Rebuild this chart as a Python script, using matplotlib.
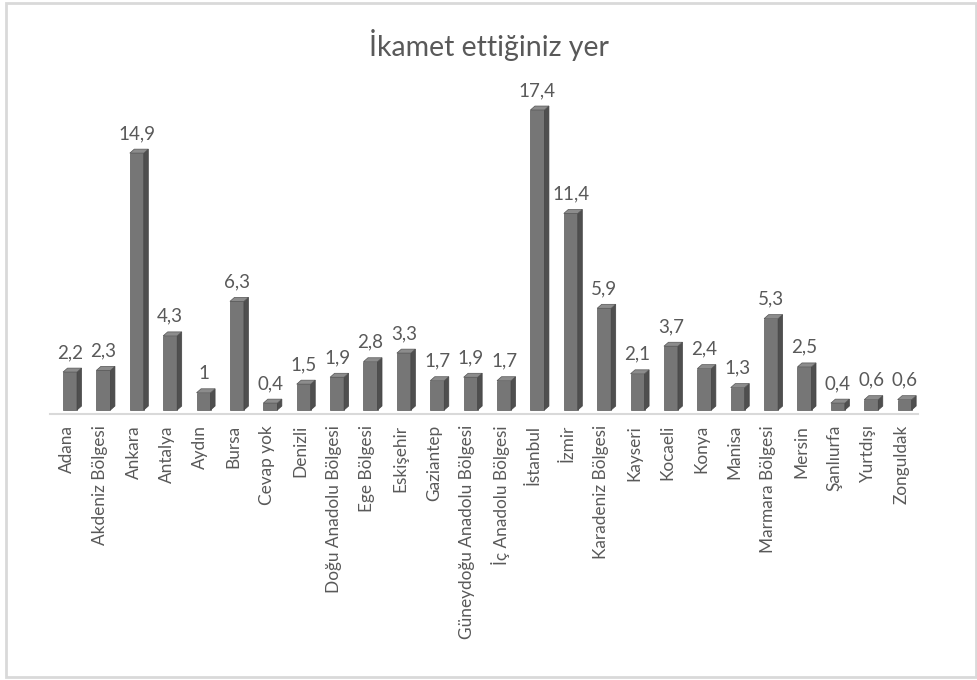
import matplotlib.pyplot as plt
from matplotlib.patches import Rectangle, Polygon

plt.rcParams['font.family'] = ['Lato', 'DejaVu Sans']

cities = ["Adana", "Akdeniz Bölgesi", "Ankara", "Antalya", "Aydın", "Bursa",
          "Cevap yok", "Denizli", "Doğu Anadolu Bölgesi", "Ege Bölgesi",
          "Eskişehir", "Gaziantep", "Güneydoğu Anadolu Bölgesi",
          "İç Anadolu Bölgesi", "İstanbul", "İzmir", "Karadeniz Bölgesi",
          "Kayseri", "Kocaeli", "Konya", "Manisa", "Marmara Bölgesi",
          "Mersin", "Şanlıurfa", "Yurtdışı", "Zonguldak"]
percent = [2.2, 2.3, 14.9, 4.3, 1, 6.3, 0.4, 1.5, 1.9, 2.8, 3.3, 1.7, 1.9,
           1.7, 17.4, 11.4, 5.9, 2.1, 3.7, 2.4, 1.3, 5.3, 2.5, 0.4, 0.6, 0.6]

text_col = "#595959"
front_col = "#767676"
side_col = "#4f4f4f"
top_col = "#8c8c8c"

W, H = 978, 680
fig = plt.figure(figsize=(W / 100, H / 100), dpi=100)

# chart frame
fig.patches.append(Rectangle((6 / W, 3 / H), 970 / W, 674 / H, transform=fig.transFigure,
                             fill=False, edgecolor="#d9d9d9", lw=2))

ax = fig.add_axes([50 / W, (H - 414) / H, 868 / W, 334 / H])
n = len(cities)
ax.set_xlim(-0.5, n - 0.5)
ax.set_ylim(-0.232, 19.14)

w = 0.42      # front face width
dx = 0.135    # depth offset (x)
dy = 0.23     # depth offset (y)
off = 0.1

for i, v in enumerate(percent):
    x0 = i - w / 2 + off
    ax.add_patch(Rectangle((x0, 0), w, v, facecolor=front_col, edgecolor="#5a5a5a", lw=0.5))
    ax.add_patch(Polygon([(x0 + w, 0), (x0 + w + dx, dy), (x0 + w + dx, v + dy), (x0 + w, v)],
                         closed=True, facecolor=side_col, edgecolor="#444444", lw=0.5))
    ax.add_patch(Polygon([(x0, v), (x0 + w, v), (x0 + w + dx, v + dy), (x0 + dx, v + dy)],
                         closed=True, facecolor=top_col, edgecolor="#555555", lw=0.5))
    lbl = ("%g" % v).replace(".", ",")
    ax.annotate(lbl, (i + off, v), xytext=(0, 8), textcoords="offset points",
                ha="center", va="bottom", fontsize=13.5, color=text_col)

ax.set_xticks(range(n))
ax.set_xticklabels(cities, rotation=90, fontsize=12.4, color=text_col)
ax.tick_params(axis="x", length=0, pad=8)
ax.set_yticks([])
for s in ["top", "right", "left"]:
    ax.spines[s].set_visible(False)
ax.spines["bottom"].set_color("#d9d9d9")
ax.spines["bottom"].set_linewidth(1.5)

fig.text(489 / W, 1 - 45 / H, "İkamet ettiğiniz yer", ha="center", va="center",
         fontsize=20.5, color=text_col)

fig.savefig("out.png", dpi=100)
